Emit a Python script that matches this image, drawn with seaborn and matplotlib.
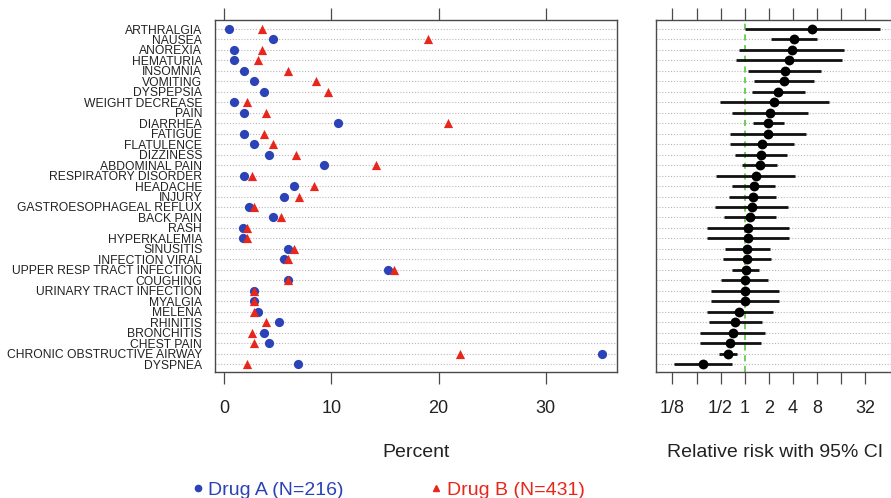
import numpy as np
import pandas as pd
import matplotlib
matplotlib.use("Agg")
import matplotlib.pyplot as plt
from matplotlib.lines import Line2D
import seaborn as sns

# adverse event terms, top to bottom
terms = ["ARTHRALGIA", "NAUSEA", "ANOREXIA", "HEMATURIA", "INSOMNIA", "VOMITING",
         "DYSPEPSIA", "WEIGHT DECREASE", "PAIN", "DIARRHEA", "FATIGUE", "FLATULENCE",
         "DIZZINESS", "ABDOMINAL PAIN", "RESPIRATORY DISORDER", "HEADACHE", "INJURY",
         "GASTROESOPHAGEAL REFLUX", "BACK PAIN", "RASH", "HYPERKALEMIA", "SINUSITIS",
         "INFECTION VIRAL", "UPPER RESP TRACT INFECTION", "COUGHING",
         "URINARY TRACT INFECTION", "MYALGIA", "MELENA", "RHINITIS", "BRONCHITIS",
         "CHEST PAIN", "CHRONIC OBSTRUCTIVE AIRWAY", "DYSPNEA"]

# percent of patients with the event
drug_a_pct = [0.5, 4.6, 0.9, 0.9, 1.9, 2.8, 3.7, 0.9, 1.9, 10.6, 1.9, 2.8, 4.2, 9.3,
              1.9, 6.5, 5.6, 2.3, 4.6, 1.8, 1.8, 6.0, 5.6, 15.3, 6.0, 2.8, 2.8, 3.2,
              5.1, 3.7, 4.2, 35.2, 6.9]
drug_b_pct = [3.5, 19.0, 3.5, 3.2, 6.0, 8.6, 9.7, 2.1, 3.9, 20.9, 3.7, 4.6, 6.7, 14.2,
              2.6, 8.4, 7.0, 2.8, 5.3, 2.1, 2.1, 6.5, 6.0, 15.8, 6.0, 2.8, 2.8, 2.8,
              3.9, 2.6, 2.8, 22.0, 2.1]

# relative risk and 95% CI
rr = [7.0, 4.14, 3.89, 3.6, 3.16, 3.1, 2.62, 2.33, 2.07, 1.97, 1.93, 1.65, 1.60, 1.54,
      1.38, 1.29, 1.26, 1.22, 1.16, 1.11, 1.11, 1.08, 1.07, 1.04, 1.0, 1.0, 1.0, 0.86,
      0.76, 0.71, 0.66, 0.62, 0.30]
rr_lo = [1.0, 2.13, 0.86, 0.78, 1.11, 1.29, 1.22, 0.49, 0.69, 1.27, 0.65, 0.66, 0.76,
         0.93, 0.44, 0.70, 0.64, 0.43, 0.55, 0.34, 0.34, 0.56, 0.54, 0.69, 0.51, 0.38,
         0.38, 0.34, 0.36, 0.28, 0.28, 0.48, 0.13]
rr_hi = [49.5, 8.0, 17.4, 16.2, 9.06, 7.26, 5.62, 11.2, 6.1, 3.07, 5.78, 4.14, 3.39,
         2.51, 4.29, 2.36, 2.45, 3.51, 2.45, 3.53, 3.53, 2.08, 2.13, 1.53, 1.93, 2.66,
         2.66, 2.23, 1.65, 1.79, 1.58, 0.81, 0.70]

rr_ticks = [1/8, 1/4, 1/2, 1, 2, 4, 8, 16, 32]
rr_labels = ["1/8", "", "1/2", "1", "2", "4", "8", "", "32"]
pct_ticks = [0, 10, 20, 30]

BLUE = "#2b43b6"
RED = "#e8261c"
FRAME = "#4a4a4a"
TXT = "#222222"

sns.set_style("white")
plt.rcParams["font.family"] = ["Liberation Sans", "DejaVu Sans"]

df = pd.DataFrame({"term": terms, "row": np.arange(len(terms)),
                   "A": drug_a_pct, "B": drug_b_pct,
                   "rr": rr, "lo": rr_lo, "hi": rr_hi})

W, H = 891, 498
fig = plt.figure(figsize=(W / 100, H / 100), dpi=100)
ax1 = fig.add_axes([214.7 / W, 1 - 372.3 / H, 402 / W, 352.3 / H])
ax2 = fig.add_axes([656.3 / W, 1 - 372.3 / H, 238 / W, 352.3 / H])

n = len(terms)
for ax in (ax1, ax2):
    # dotted row guides
    for r in df["row"]:
        ax.axhline(r, color="#b8b8b8", lw=0.8, ls=(0, (1, 1.6)), zorder=0)
    ax.set_ylim(n - 1 + 0.79, -0.86)
    for s in ax.spines.values():
        s.set_color(FRAME)
        s.set_linewidth(1.0)
    ax.tick_params(axis="x", which="both", top=True, bottom=True, direction="out",
                   length=8.6, width=0.9, color=FRAME, pad=11, labelsize=13,
                   labelcolor=TXT)

# left panel: percents
sns.scatterplot(data=df, x="A", y="row", ax=ax1, marker="o", s=44, color=BLUE,
                edgecolor=BLUE, linewidth=0, zorder=3)
sns.scatterplot(data=df, x="B", y="row", ax=ax1, marker="^", s=44, color=RED,
                edgecolor=RED, linewidth=0, zorder=4)
ax1.set_xlim(-0.87, 36.6)
ax1.set_xticks(pct_ticks)
ax1.set_yticks(df["row"])
ax1.set_yticklabels(terms, fontsize=8.7, color=TXT)
ax1.tick_params(axis="y", length=0, pad=9)
ax1.set_xlabel("Percent", fontsize=14, labelpad=20, color=TXT)
ax1.set_ylabel("")

# right panel: relative risk with CI
ax2.set_xscale("log", base=2)
ax2.axvline(1, color="#4cc030", lw=1.1, ls=(0, (4, 3)), zorder=1)
ax2.hlines(df["row"], df["lo"], df["hi"], color="#111111", lw=2.0, zorder=2)
sns.scatterplot(data=df, x="rr", y="row", ax=ax2, marker="o", s=50, color="#000000",
                edgecolor="#000000", linewidth=0, zorder=3)
ax2.set_xlim(2 ** ((656.3 - 744.7) / 24.1), 2 ** ((894.3 - 744.7) / 24.1))
ax2.set_xticks(rr_ticks)
ax2.set_xticklabels(rr_labels)
ax2.xaxis.set_minor_locator(matplotlib.ticker.NullLocator())
ax2.set_yticks([])
ax2.set_xlabel("Relative risk with 95% CI", fontsize=14, labelpad=20, color=TXT)
ax2.set_ylabel("")

# legend along the bottom
handles = [Line2D([], [], ls="", marker="o", ms=4.5, color=BLUE),
           Line2D([], [], ls="", marker="^", ms=4.5, color=RED)]
fig.legend(handles, ["Drug A (N=216)", "Drug B (N=431)"], loc="center left",
           bbox_to_anchor=(190 / W, 1 - 490 / H), ncol=2, frameon=False,
           fontsize=14, labelcolor=[BLUE, RED], handlelength=0.8,
           handletextpad=0.15, columnspacing=4.35, borderaxespad=0, borderpad=0)

fig.savefig("out.png", dpi=100)
